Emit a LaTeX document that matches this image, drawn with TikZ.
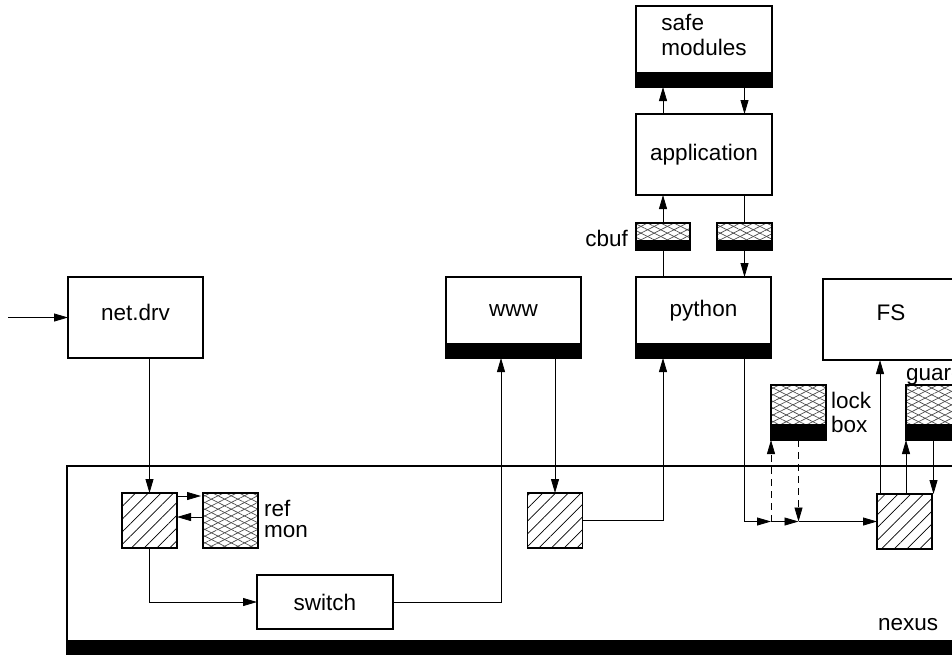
\documentclass[tikz,border=0pt]{standalone}
\usepackage{fontspec}
\setmainfont{Liberation Sans}
\usetikzlibrary{positioning,arrows.meta,patterns.meta}
\newcommand\liftd[2]{\raisebox{0pt}[\height][\dimexpr\depth+#1\relax]{#2}}
\tikzset{
  plain/.style={line width=0.8pt},
  conn/.style={line width=0.8pt,-{Triangle[length=14pt,width=8pt]}},
  box/.style={draw,line width=1.5pt,rectangle,inner sep=0pt,outer sep=0pt},
  blackbar/.style={box,fill=black},
  hatchbox/.style={box,minimum width=55pt,minimum height=55pt,
    path picture={\fill[pattern={Lines[angle=45,distance=9pt,line width=0.7pt]}]
      (path picture bounding box.south west) rectangle (path picture bounding box.north east);}},
  meshbox/.style={box,
    path picture={\fill[pattern={Lines[angle=27,distance=6pt,line width=0.7pt]},pattern color=black!70]
      (path picture bounding box.south west) rectangle (path picture bounding box.north east);
      \fill[pattern={Lines[angle=-27,distance=6pt,line width=0.7pt]},pattern color=black!70]
      (path picture bounding box.south west) rectangle (path picture bounding box.north east);}},
}
\begin{document}
\begin{tikzpicture}[x=1pt,y=-1pt,font=\fontsize{22.5}{25}\selectfont]
\useasboundingbox (0,0) rectangle (952,654);
\clip (0,0) rectangle (952,654);
% nexus
\node[box,minimum width=933pt,minimum height=175pt] (nexus) at (533.5,553.5) {};
\node[blackbar,minimum width=933pt,minimum height=20pt,below=0pt of nexus] (nexusbar) {};
\node[anchor=base west,inner sep=0pt] (nexuslbl) at (878,630) {nexus};
% top boxes
\node[box,minimum width=136pt,minimum height=67pt,align=left] (safemod) at (704,39.5)
  {\liftd{4pt}{\begin{tabular}{@{}l@{}}safe\\modules\end{tabular}}};
\node[blackbar,minimum width=136pt,minimum height=14pt,below=0pt of safemod] (smbar) {};
\node[box,minimum width=136pt,minimum height=81pt] (app) at (704,154.5) {application};
\node[meshbox,minimum width=54pt,minimum height=18pt] (cbufa) at (663,232) {};
\node[blackbar,minimum width=54pt,minimum height=9pt,below=0pt of cbufa] (cbufabar) {};
\node[meshbox,minimum width=55pt,minimum height=18pt] (cbufb) at (744.5,232) {};
\node[blackbar,minimum width=55pt,minimum height=9pt,below=0pt of cbufb] (cbufbbar) {};
\node[anchor=east,inner sep=0pt] (cbuflbl) at (628,238) {cbuf};
% middle row
\node[box,minimum width=135pt,minimum height=81pt] (netdrv) at (135.5,317.5) {\liftd{11pt}{net.drv}};
\node[box,minimum width=135pt,minimum height=67pt] (www) at (513.5,310.5) {www};
\node[blackbar,minimum width=135pt,minimum height=14pt,below=0pt of www] (wwwbar) {};
\node[box,minimum width=135pt,minimum height=67pt] (python) at (703.5,310.5) {python};
\node[blackbar,minimum width=135pt,minimum height=14pt,below=0pt of python] (pybar) {};
\node[box,minimum width=136pt,minimum height=81pt] (fs) at (891,319.5) {\liftd{13pt}{FS}};
% lock box and guard
\node[meshbox,minimum width=55pt,minimum height=40pt] (lock) at (798.5,405) {};
\node[blackbar,minimum width=55pt,minimum height=15pt,below=0pt of lock] (lockbar) {};
\node[anchor=west,inner sep=0pt,align=left,font=\fontsize{22.5}{24}\selectfont] (locklbl) at (831,412) {lock\\box};
\node[meshbox,minimum width=55pt,minimum height=40pt] (guard) at (933.5,405) {};
\node[blackbar,minimum width=55pt,minimum height=15pt,below=0pt of guard] (guardbar) {};
\node[anchor=base west,inner sep=0pt] (guardlbl) at (906,380) {guard};
% inside nexus
\node[hatchbox] (hatchL) at (149.5,520.5) {};
\node[meshbox,minimum width=55pt,minimum height=55pt] (refmon) at (230.5,520.5) {};
\node[anchor=west,inner sep=0pt,align=left,font=\fontsize{22.5}{21}\selectfont] (refmonlbl) at (264,519) {ref\\mon};
\node[box,minimum width=136pt,minimum height=54pt] (switch) at (325,602) {switch};
\node[hatchbox] (hatchM) at (555,520.5) {};
\node[hatchbox] (hatchR) at (904.5,521.5) {};
% connectors
\coordinate (inp) at (8,317.5);
\draw[conn] (inp) -- (netdrv.west);
\draw[conn] (netdrv.south -| hatchL.north) -- (hatchL.north);
\draw[conn,shorten >=2pt] ([yshift=-3pt]hatchL.north east) -- ([yshift=-3pt]refmon.north west);
\draw[conn] ([yshift=3.5pt]refmon.west) -- ([yshift=3.5pt]hatchL.east);
\draw[conn] (hatchL.south) |- (switch.west);
\coordinate (xw) at (501,0);
\draw[conn] (switch.east) -| (wwwbar.south -| xw);
\draw[conn] (wwwbar.south -| hatchM.north) -- (hatchM.north);
\draw[conn] (hatchM.east) -| (pybar.south -| cbufa.north);
\draw[plain] (python.north -| cbufa.north) -- (cbufabar.south);
\draw[conn] (cbufa.north) -- (app.south -| cbufa.north);
\draw[plain] (app.south -| cbufb.north) -- (cbufb.north);
\draw[conn] (cbufbbar.south) -- (python.north -| cbufbbar.south);
\draw[conn] (app.north -| cbufa.north) -- (smbar.south -| cbufa.north);
\draw[conn] (smbar.south -| cbufb.north) -- (app.north -| cbufb.north);
\coordinate (d1) at (lockbar.south west |- hatchR.west);
\coordinate (d2) at (lockbar.south |- hatchR.west);
\draw[conn] (pybar.south -| cbufb.north) |- (d1);
\draw[conn] (d1) -- (d2);
\draw[conn] (d2) -- (hatchR.west);
\draw[conn,dash pattern=on 7pt off 5pt] (d1) -- (lockbar.south west);
\draw[conn,dash pattern=on 7pt off 5pt] (lockbar.south) -- (d2);
\coordinate (h1) at ([xshift=3pt]hatchR.north west);
\draw[conn] (h1) -- (h1 |- fs.south);
\coordinate (h2) at (guardbar.south west |- hatchR.north);
\draw[conn] (h2) -- (guardbar.south west);
\draw[conn] (guardbar.south) -- (guardbar.south |- hatchR.north);
\end{tikzpicture}
\end{document}
